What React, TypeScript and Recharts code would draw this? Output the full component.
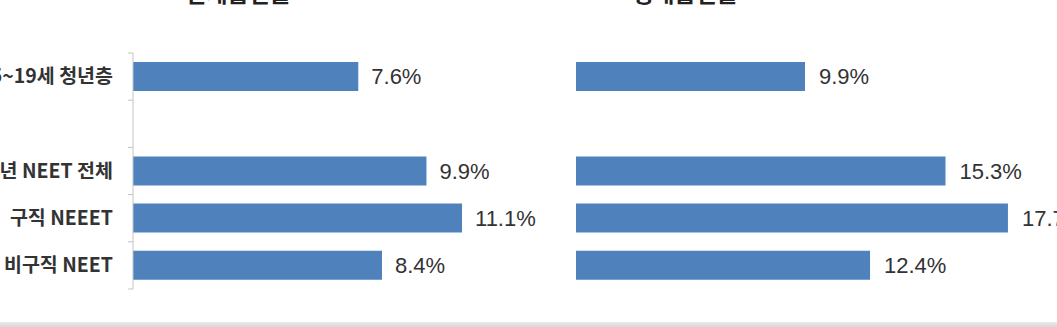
import React from 'react';
import { BarChart, Bar, XAxis, YAxis, LabelList } from 'recharts';

const categories = ['15~19세 청년층', '', '청년 NEET 전체', '구직 NEEET', '비구직 NEET'];
const currentSmoking: (number | null)[] = [7.6, null, 9.9, 11.1, 8.4];
const lifetimeSmoking: (number | null)[] = [9.9, null, 15.3, 17.7, 12.4];
const titles = ['현재흡연율', '생애흡연율'];

const leftData = categories.map((c, i) => ({ name: c || ' ', value: currentSmoking[i] }));
const rightData = categories.map((c, i) => ({ name: c || ' ', value: lifetimeSmoking[i] }));

const PLOT_TOP = 53;
const PLOT_BOTTOM = 38;
const CHART_H = 327;
const STEP = (CHART_H - PLOT_TOP - PLOT_BOTTOM) / categories.length;

const BAR_COLOR = '#4F81BD';
const AXIS_COLOR = '#c4c4c4';
const LABEL_FONT = '"Liberation Sans", Arial, sans-serif';
const KR_FONT = '"Noto Sans CJK KR", "Noto Sans", sans-serif';

const fmt = (v: any) => (v === null || v === undefined ? '' : `${Number(v).toFixed(1)}%`);

const LeftTick = (props: any) => {
  const { x, y, payload, index } = props;
  const last = index === categories.length - 1;
  return (
    <g>
      <line x1={x - 5} x2={x} y1={y - STEP / 2} y2={y - STEP / 2} stroke={AXIS_COLOR} />
      {last && <line x1={x - 5} x2={x} y1={y + STEP / 2} y2={y + STEP / 2} stroke={AXIS_COLOR} />}
      <text
        x={x - 20}
        y={y}
        dy="0.35em"
        textAnchor="end"
        fontFamily={KR_FONT}
        fontWeight={700}
        fontSize={19.5}
        fill="#333"
      >
        {payload.value}
      </text>
    </g>
  );
};

const titleStyle = (center: number): React.CSSProperties => ({
  position: 'absolute',
  top: -20,
  left: center - 100,
  width: 200,
  textAlign: 'center',
  fontFamily: KR_FONT,
  fontWeight: 700,
  fontSize: 23,
  lineHeight: '24px',
  color: '#222',
});

export default function App() {
  return (
    <div
      style={{
        position: 'absolute',
        left: 0,
        top: 0,
        width: 1057,
        height: 327,
        overflow: 'hidden',
        background: '#fff',
      }}
    >
      <div style={titleStyle(238)}>{titles[0]}</div>
      <div style={titleStyle(685)}>{titles[1]}</div>

      <div style={{ position: 'absolute', left: 0, top: 0 }}>
        <BarChart
          width={548}
          height={CHART_H}
          data={leftData}
          layout="vertical"
          margin={{ top: PLOT_TOP, right: 0, bottom: PLOT_BOTTOM, left: 0 }}
        >
          <XAxis type="number" domain={[0, 14]} hide />
          <YAxis
            type="category"
            dataKey="name"
            width={133}
            axisLine={{ stroke: AXIS_COLOR }}
            tickLine={false}
            tickSize={0}
            tickMargin={0}
            tick={<LeftTick />}
            interval={0}
          />
          <Bar dataKey="value" fill={BAR_COLOR} barSize={29} isAnimationActive={false}>
            <LabelList
              dataKey="value"
              position="right"
              offset={13}
              formatter={fmt}
              fill="#333"
              fontSize={22}
              fontFamily={LABEL_FONT}
            />
          </Bar>
        </BarChart>
      </div>

      <div style={{ position: 'absolute', left: 520, top: 0 }}>
        <BarChart
          width={540}
          height={CHART_H}
          data={rightData}
          layout="vertical"
          margin={{ top: PLOT_TOP, right: 0, bottom: PLOT_BOTTOM, left: 56 }}
        >
          <XAxis type="number" domain={[1.1, 19.7]} allowDataOverflow hide />
          <YAxis
            type="category"
            dataKey="name"
            width={0}
            axisLine={{ stroke: AXIS_COLOR }}
            tickLine={false}
            tick={false}
          />
          <Bar dataKey="value" fill={BAR_COLOR} barSize={29} isAnimationActive={false}>
            <LabelList
              dataKey="value"
              position="right"
              offset={14}
              formatter={fmt}
              fill="#333"
              fontSize={22}
              fontFamily={LABEL_FONT}
            />
          </Bar>
        </BarChart>
      </div>

      <div
        style={{
          position: 'absolute',
          left: 0,
          top: 322,
          width: 1057,
          height: 5,
          background: 'linear-gradient(#ececec, #d6d6d6)',
        }}
      />
    </div>
  );
}
